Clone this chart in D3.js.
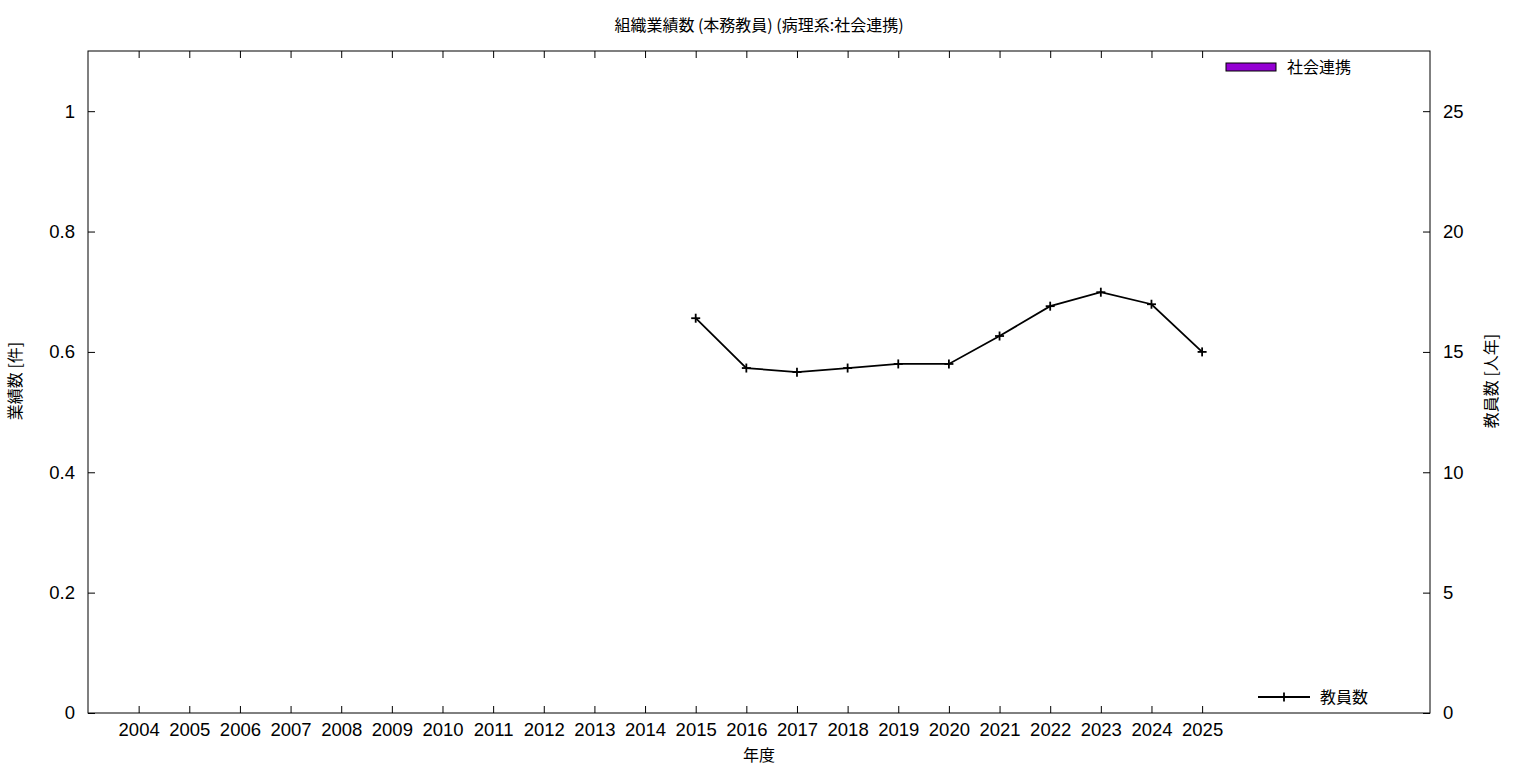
<!DOCTYPE html>
<html><head><meta charset="utf-8">
<script src="https://cdn.jsdelivr.net/npm/d3@7"></script>
<style>body{margin:0;background:#fff;} text{fill:#000;} .cjk{font-family:"Noto Sans CJK JP",sans-serif;} .num{font-family:"Liberation Sans",Arial,sans-serif;}</style>
</head><body>
<svg id="c" width="1536" height="768"></svg>
<script>
const years = [2004,2005,2006,2007,2008,2009,2010,2011,2012,2013,2014,2015,2016,2017,2018,2019,2020,2021,2022,2023,2024,2025];
const staffYears = [2015,2016,2017,2018,2019,2020,2021,2022,2023,2024,2025];
const staffCounts = [16.4,14.33,14.16,14.33,14.5,14.5,15.66,16.9,17.48,16.98,15.0];
const leftTicks = [0,0.2,0.4,0.6,0.8,1];
const rightTicks = [0,5,10,15,20,25];
const seriesName = "社会連携";
const lineName = "教員数";

const svg = d3.select("#c");
const L=88, R=1430, T=51, B=713;
const x = d3.scaleLinear().domain([2003,2029.5]).range([L,R]);
const y = d3.scaleLinear().domain([0,1.1]).range([B,T]);
const y2 = d3.scaleLinear().domain([0,27.5]).range([B,T]);

svg.append("text").attr("class","cjk").attr("x",759).attr("y",31).attr("text-anchor","middle").style("font-size","16px").text("組織業績数 (本務教員) (病理系:社会連携)");

const g = svg.append("g");
const styleNum = a=>{a.select(".domain").remove();a.selectAll("text").attr("class","num").style("font-size","18.5px").attr("fill","#000");};
g.append("g").attr("transform",`translate(0,${B})`).call(d3.axisBottom(x).tickValues(years).tickFormat(d=>d).tickSizeInner(-7).tickSizeOuter(0).tickPadding(10)).call(styleNum);
g.append("g").attr("transform",`translate(0,${T})`).call(d3.axisTop(x).tickValues(years).tickFormat("").tickSizeInner(-7).tickSizeOuter(0))
  .call(a=>a.select(".domain").remove());
g.append("g").attr("transform",`translate(${L},0)`).call(d3.axisLeft(y).tickValues(leftTicks).tickFormat(d=>d===0?"0":(d===1?"1":d3.format(".1f")(d))).tickSizeInner(-7).tickSizeOuter(0).tickPadding(13)).call(styleNum);
g.append("g").attr("transform",`translate(${R},0)`).call(d3.axisRight(y2).tickValues(rightTicks).tickSizeInner(-7).tickSizeOuter(0).tickPadding(13)).call(styleNum);
g.selectAll(".tick line").attr("stroke","#000");

svg.append("rect").attr("x",L).attr("y",T).attr("width",R-L).attr("height",B-T).attr("fill","none").attr("stroke","#000").attr("stroke-width",1);

svg.append("text").attr("class","cjk").attr("transform","translate(21,381) rotate(-90)").attr("text-anchor","middle").style("font-size","16px").text("業績数 [件]");
svg.append("text").attr("class","cjk").attr("transform","translate(1497,381) rotate(-90)").attr("text-anchor","middle").style("font-size","16px").text("教員数 [人年]");
svg.append("text").attr("class","cjk").attr("x",759).attr("y",761).attr("text-anchor","middle").style("font-size","16px").text("年度");

const pts = staffYears.map((yr,i)=>[x(yr),y2(staffCounts[i])]);
svg.append("path").attr("d",d3.line()(pts)).attr("fill","none").attr("stroke","#000").attr("stroke-width",1.8);
const mk = svg.append("g").attr("stroke","#000").attr("stroke-width",1.8);
pts.forEach(p=>{
  mk.append("line").attr("x1",p[0]-4.5).attr("x2",p[0]+4.5).attr("y1",p[1]).attr("y2",p[1]);
  mk.append("line").attr("x1",p[0]).attr("x2",p[0]).attr("y1",p[1]-4.5).attr("y2",p[1]+4.5);
});

svg.append("rect").attr("x",1226).attr("y",63).attr("width",50).attr("height",8).attr("fill","#9400d3").attr("stroke","#000").attr("stroke-width",1);
svg.append("text").attr("class","cjk").attr("x",1287).attr("y",73).style("font-size","16px").text(seriesName);
svg.append("line").attr("x1",1258).attr("x2",1310).attr("y1",697).attr("y2",697).attr("stroke","#000").attr("stroke-width",1.8);
svg.append("line").attr("x1",1284).attr("x2",1284).attr("y1",692.5).attr("y2",701.5).attr("stroke","#000").attr("stroke-width",1.8);
svg.append("text").attr("class","cjk").attr("x",1320).attr("y",703).style("font-size","16px").text(lineName);
</script>
</body></html>
